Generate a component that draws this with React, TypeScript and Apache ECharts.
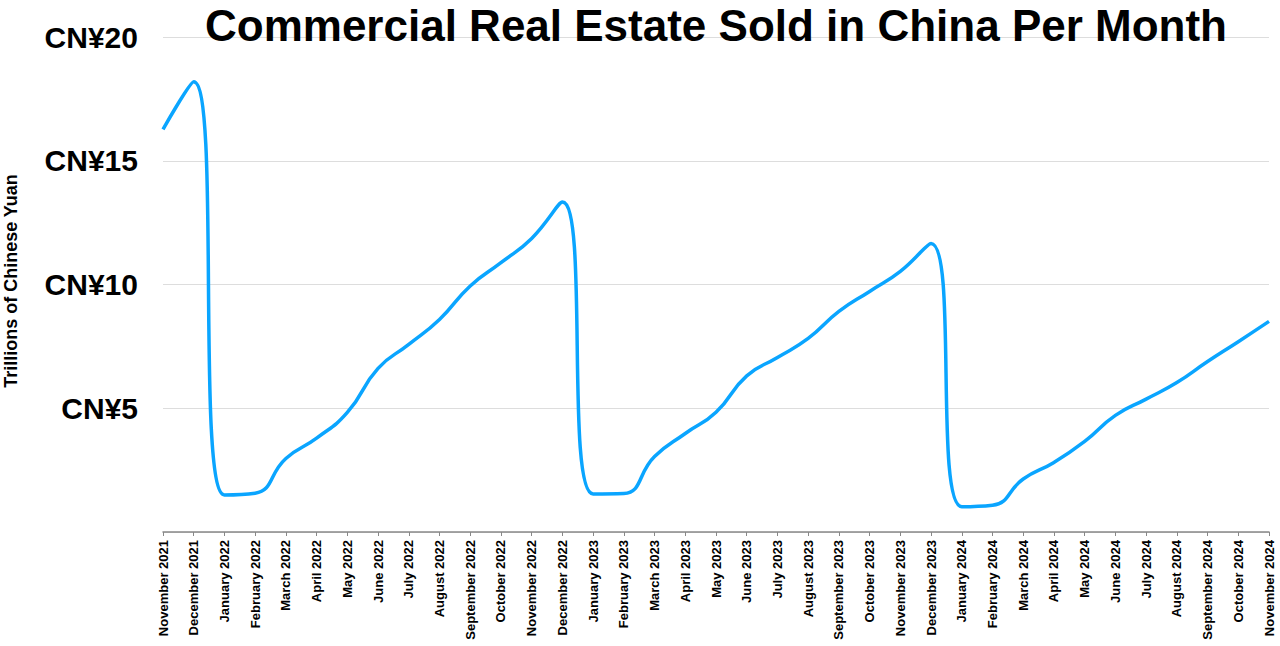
import React, { useEffect, useRef } from 'react';
import * as echarts from 'echarts';

const months = [
  'November 2021', 'December 2021',
  'January 2022', 'February 2022', 'March 2022', 'April 2022', 'May 2022', 'June 2022',
  'July 2022', 'August 2022', 'September 2022', 'October 2022', 'November 2022', 'December 2022',
  'January 2023', 'February 2023', 'March 2023', 'April 2023', 'May 2023', 'June 2023',
  'July 2023', 'August 2023', 'September 2023', 'October 2023', 'November 2023', 'December 2023',
  'January 2024', 'February 2024', 'March 2024', 'April 2024', 'May 2024', 'June 2024',
  'July 2024', 'August 2024', 'September 2024', 'October 2024', 'November 2024',
];

// trillions of yuan, year-to-date totals
const salesValues = [
  16.27, 18.19,
  1.5, 1.57, 2.97, 3.79, 4.83, 6.61, 7.58, 8.59, 9.94, 10.88, 11.86, 13.33,
  1.54, 1.56, 3.05, 3.98, 4.84, 6.31, 7.05, 7.82, 8.91, 9.72, 10.53, 11.66,
  1.02, 1.08, 2.14, 2.81, 3.66, 4.71, 5.37, 6.04, 6.89, 7.69, 8.51,
];

const yTicks = [0, 5, 10, 15, 20];

const FONT = '"Liberation Sans", Arial, Helvetica, sans-serif';

const App: React.FC = () => {
  const chartRef = useRef<HTMLDivElement>(null);

  useEffect(() => {
    if (!chartRef.current) return;
    const chart = echarts.init(chartRef.current, undefined, { renderer: 'svg' });

    const option: echarts.EChartsOption = {
      animation: false,
      backgroundColor: '#fff',
      textStyle: { fontFamily: FONT },
      title: {
        text: 'Commercial Real Estate Sold in China Per Month',
        left: 716,
        top: 0,
        textAlign: 'center',
        padding: 0,
        textStyle: {
          fontSize: 44,
          lineHeight: 50,
          fontWeight: 'bold',
          color: '#000',
          fontFamily: FONT,
        },
      },
      grid: { left: 163, right: 11, top: 37, bottom: 114, containLabel: false },
      graphic: [
        {
          type: 'text',
          x: 11,
          y: 281,
          rotation: Math.PI / 2,
          style: {
            text: 'Trillions of Chinese Yuan',
            font: `bold 18px ${FONT}`,
            fill: '#000',
            textAlign: 'center',
            textVerticalAlign: 'middle',
          },
        },
      ],
      xAxis: {
        type: 'category',
        data: months,
        boundaryGap: false,
        axisLine: { lineStyle: { color: '#888', width: 1.5 } },
        axisTick: { show: true, length: 4, lineStyle: { color: '#888' } },
        axisLabel: {
          interval: 0,
          rotate: 90,
          margin: 8,
          fontSize: 13,
          fontWeight: 'bold',
          color: '#000',
          fontFamily: FONT,
        },
      },
      yAxis: {
        type: 'value',
        min: yTicks[0],
        max: yTicks[yTicks.length - 1],
        interval: 5,
        axisLine: { show: false },
        axisTick: { show: false },
        splitLine: { lineStyle: { color: '#dddddd', width: 1 } },
        axisLabel: {
          margin: 25,
          fontSize: 30,
          fontWeight: 'bold',
          color: '#000',
          fontFamily: FONT,
          formatter: (v: number) => (v === 0 ? '' : `CN¥${v}`),
        },
      },
      series: [
        {
          type: 'line',
          data: salesValues,
          smooth: 0.5,
          symbol: 'none',
          lineStyle: { color: '#0aa5ff', width: 3.5 },
        },
      ],
    };

    chart.setOption(option);
    return () => chart.dispose();
  }, []);

  return (
    <div
      ref={chartRef}
      style={{ position: 'fixed', left: 0, top: 0, width: 1280, height: 646 }}
    />
  );
};

export default App;
